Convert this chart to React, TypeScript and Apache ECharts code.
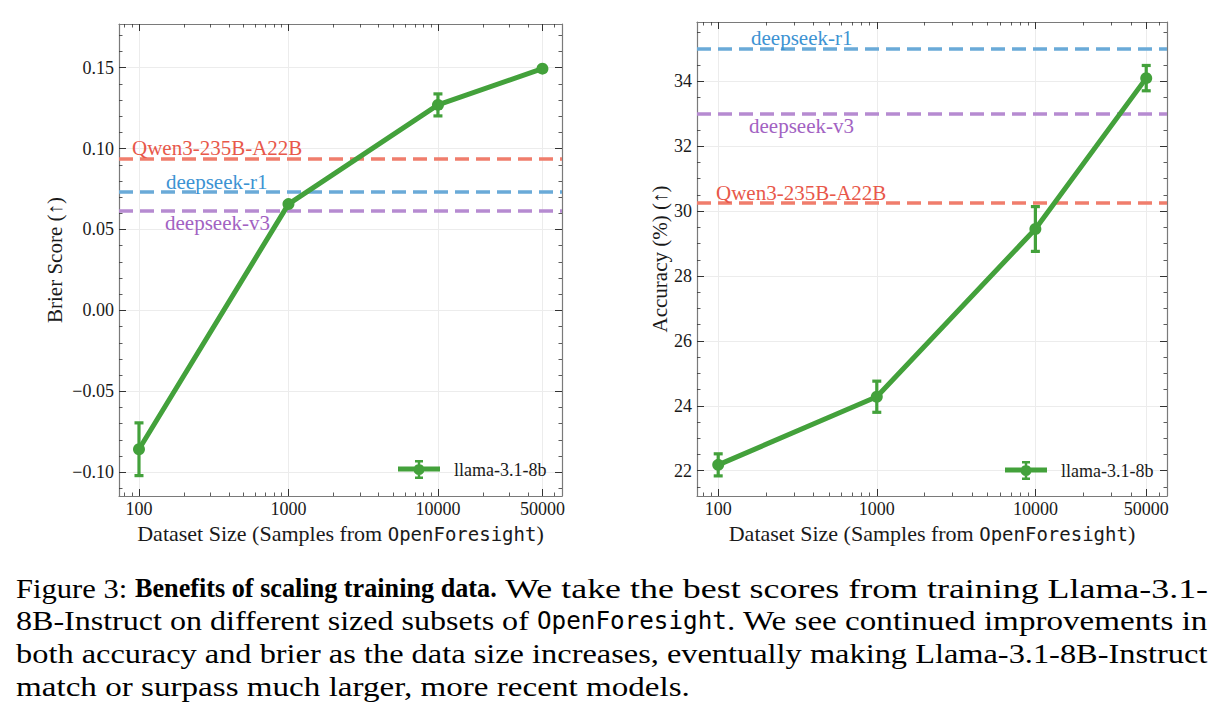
import React, { useEffect, useRef } from "react";
import * as echarts from "echarts";

// ---------------- data ----------------
const sampleSizes = [100, 1000, 10000, 50000];
const brierScores = [-0.0858, 0.0657, 0.127, 0.1494];
const brierErrors = [0.0163, 0.0012, 0.0068, 0.0012];
const accuracyScores = [22.18, 24.28, 29.45, 34.1];
const accuracyErrors = [0.34, 0.48, 0.69, 0.39];

const baselineModels = ["Qwen3-235B-A22B", "deepseek-r1", "deepseek-v3"];
const baselineBrier = [0.0936, 0.0731, 0.0616];
const baselineAccuracy = [30.25, 35.0, 33.0];

const xTickLabels = [100, 1000, 10000, 50000];
const brierTicks = [-0.1, -0.05, 0.0, 0.05, 0.1, 0.15];
const accuracyTicks = [22, 24, 26, 28, 30, 32, 34];
const seriesName = "llama-3.1-8b";

const xRange = [73.5, 67600];
const brierRange = [-0.1147, 0.177];
const accuracyRange = [21.22, 35.83];

const captionLines: [string, string][][] = [
  [["Figure 3: ", "r"], ["Benefits of scaling training data.", "b"], [" We take the best scores from training Llama-3.1-", "r"]],
  [["8B-Instruct on different sized subsets of ", "r"], ["OpenForesight", "m"], [". We see continued improvements in", "r"]],
  [["both accuracy and brier as the data size increases, eventually making Llama-3.1-8B-Instruct", "r"]],
  [["match or surpass much larger, more recent models.", "r"]],
];

// ---------------- style ----------------
const FONT = "Liberation Serif";
const MONO = "DejaVu Sans Mono";
const GREEN = "#43a13b";
const TEXT = "#1a1a1a";
const lineColors = ["#f07d6c", "#6aaad8", "#b68bd1"];
const labelColors = ["#e8584a", "#3d93d3", "#a262c2"];
const FRAME = "#7a7a7a";
const TICK = "#333";
const GRIDLINE = "#ececec";

// label placement for baseline annotations: [dx, above]
const leftAnnot: [number, boolean][] = [[13, true], [47, true], [46, false]];
const rightAnnot: [number, boolean][] = [[19, true], [54, true], [52, false]];

// caption layout: segment boundaries (px) and baselines
const captionBounds = [
  [16, 135, 497, 1209],
  [16, 537, 727, 1208],
  [16, 1208],
  [16, 690],
];
const captionBaselines = [597, 630, 663, 696];

const log10 = (v: number) => Math.log10(v);

function minorLogTicks(range: number[]) {
  const out: number[] = [];
  for (let d = 10; d <= 100000; d *= 10) {
    for (let m = 2; m <= 9; m++) {
      const v = m * d;
      if (v >= range[0] && v <= range[1] && !xTickLabels.includes(v)) out.push(log10(v));
    }
  }
  return out;
}
function minorLinTicks(range: number[], step: number, major: number[]) {
  const out: number[] = [];
  const start = Math.ceil(range[0] / step);
  const end = Math.floor(range[1] / step);
  for (let k = start; k <= end; k++) {
    const v = +(k * step).toFixed(6);
    if (!major.some((m) => Math.abs(m - v) < 1e-9)) out.push(v);
  }
  return out;
}

const legendIcon =
  "path://M0 6.5H42V11.5H0Z M19.75 0H22.25V19H19.75Z M17 0H25V2.5H17Z M17 16.5H25V19H17Z M15.5 9.5A5.5 5.5 0 1 1 26.5 9.5A5.5 5.5 0 1 1 15.5 9.5Z";

function buildXAxes(gridIndex: number) {
  const min = log10(xRange[0]);
  const max = log10(xRange[1]);
  const major = xTickLabels.map(log10);
  const minor = minorLogTicks(xRange);
  const base: any = {
    type: "value",
    gridIndex,
    min,
    max,
    splitLine: { show: false },
    axisLabel: { show: false },
    axisLine: { show: false, onZero: false },
    axisTick: { show: false },
  };
  const majorTick = { show: true, inside: true, length: 7, customValues: major, lineStyle: { color: TICK, width: 1 } };
  const minorTick = { show: true, inside: true, length: 3.5, customValues: minor, lineStyle: { color: TICK, width: 0.8 } };
  const frame = { show: true, onZero: false, lineStyle: { color: FRAME, width: 1.2 } };
  return [
    {
      ...base,
      position: "bottom",
      axisLine: frame,
      axisTick: majorTick,
      splitLine: { show: true, lineStyle: { color: GRIDLINE, width: 1 } },
      axisLabel: {
        show: true,
        customValues: major,
        margin: 4,
        fontFamily: FONT,
        fontSize: 18,
        color: TEXT,
        formatter: (v: number) => String(Math.round(Math.pow(10, v))),
      },
      name: "{a|Dataset Size (Samples from }{b|OpenForesight}{a|)}",
      nameLocation: "middle",
      nameGap: 20,
      nameTextStyle: {
        fontFamily: FONT,
        fontSize: 22,
        rich: {
          a: { fontFamily: FONT, fontSize: 22, color: TEXT },
          b: { fontFamily: MONO, fontSize: 19, color: TEXT },
        },
      },
    },
    { ...base, position: "bottom", axisTick: minorTick },
    { ...base, position: "top", axisLine: frame, axisTick: majorTick },
    { ...base, position: "top", axisTick: minorTick },
  ];
}

function buildYAxes(
  gridIndex: number,
  range: number[],
  major: number[],
  minor: number[],
  fmt: (v: number) => string,
  name: string,
  nameGap: number
) {
  const base: any = {
    type: "value",
    gridIndex,
    min: range[0],
    max: range[1],
    splitLine: { show: false },
    axisLabel: { show: false },
    axisLine: { show: false, onZero: false },
    axisTick: { show: false },
  };
  const majorTick = { show: true, inside: true, length: 7, customValues: major, lineStyle: { color: TICK, width: 1 } };
  const minorTick = { show: true, inside: true, length: 3.5, customValues: minor, lineStyle: { color: TICK, width: 0.8 } };
  const frame = { show: true, onZero: false, lineStyle: { color: FRAME, width: 1.2 } };
  return [
    {
      ...base,
      position: "left",
      axisLine: frame,
      axisTick: majorTick,
      splitLine: { show: true, lineStyle: { color: GRIDLINE, width: 1 } },
      axisLabel: { show: true, customValues: major, margin: 5, fontFamily: FONT, fontSize: 18, color: TEXT, formatter: fmt },
      name,
      nameLocation: "middle",
      nameRotate: 90,
      nameGap,
      nameTextStyle: { fontFamily: FONT, fontSize: 21, color: TEXT },
    },
    { ...base, position: "left", axisTick: minorTick },
    { ...base, position: "right", axisLine: frame, axisTick: majorTick },
    { ...base, position: "right", axisTick: minorTick },
  ];
}

function errorBarRender(params: any, api: any) {
  const x = api.value(0);
  const y = api.value(1);
  const e = api.value(2);
  const hi = api.coord([x, y + e]);
  const lo = api.coord([x, y - e]);
  const cap = 4.5;
  const style = { stroke: GREEN, lineWidth: 3.2 };
  return {
    type: "group",
    children: [
      { type: "line", shape: { x1: hi[0], y1: hi[1], x2: lo[0], y2: lo[1] }, style },
      { type: "line", shape: { x1: hi[0] - cap, y1: hi[1], x2: hi[0] + cap, y2: hi[1] }, style },
      { type: "line", shape: { x1: lo[0] - cap, y1: lo[1], x2: lo[0] + cap, y2: lo[1] }, style },
    ],
  };
}

function plotSeries(axisIdx: number, values: number[], errors: number[], baselines: number[], annot: [number, boolean][]) {
  return [
    {
      type: "line",
      name: "baselines",
      xAxisIndex: axisIdx,
      yAxisIndex: axisIdx,
      data: [],
      markLine: {
        silent: true,
        symbol: ["none", "none"],
        precision: 6,
        z: 3,
        data: baselineModels.map((m, i) => ({
          yAxis: baselines[i],
          name: m,
          lineStyle: { color: lineColors[i], type: [14, 7], width: 3.5 },
          label: {
            show: true,
            formatter: m,
            position: annot[i][1] ? "insideStartTop" : "insideStartBottom",
            distance: [annot[i][0], annot[i][1] ? 0 : 2],
            color: labelColors[i],
            fontFamily: FONT,
            fontSize: 21,
          },
        })),
      },
    },
    {
      type: "line",
      name: seriesName,
      xAxisIndex: axisIdx,
      yAxisIndex: axisIdx,
      data: sampleSizes.map((s, i) => [log10(s), values[i]]),
      symbol: "circle",
      symbolSize: 12,
      lineStyle: { color: GREEN, width: 5 },
      itemStyle: { color: GREEN },
      z: 10,
    },
    {
      type: "custom",
      name: seriesName,
      xAxisIndex: axisIdx,
      yAxisIndex: axisIdx,
      data: sampleSizes.map((s, i) => [log10(s), values[i], errors[i]]),
      encode: { x: 0, y: 1 },
      renderItem: errorBarRender,
      itemStyle: { color: GREEN },
      z: 11,
    },
  ];
}

function buildCaption() {
  const canvas = document.createElement("canvas");
  const ctx = canvas.getContext("2d")!;
  const size = 28;
  const monoSize = 24;
  const spec = (k: string) =>
    k === "b"
      ? { fontFamily: FONT, fontSize: size, fontWeight: "bold" }
      : k === "m"
      ? { fontFamily: MONO, fontSize: monoSize, fontWeight: "normal" }
      : { fontFamily: FONT, fontSize: size, fontWeight: "normal" };
  const out: any[] = [];
  captionLines.forEach((segs, li) => {
    const bounds = captionBounds[li];
    segs.forEach(([t, k], si) => {
      const s = spec(k);
      ctx.font = `${s.fontWeight} ${s.fontSize}px "${s.fontFamily}"`;
      const w = ctx.measureText(t).width;
      const x0 = bounds[si];
      const x1 = bounds[si + 1];
      out.push({
        type: "text",
        x: x0,
        y: captionBaselines[li] - 9,
        scaleX: (x1 - x0) / w,
        style: { text: t, ...s, fill: "#000", align: "left", verticalAlign: "middle" },
      });
    });
  });
  return out;
}

export default function App() {
  const ref = useRef<HTMLDivElement>(null);
  useEffect(() => {
    if (!ref.current) return;
    const chart = echarts.init(ref.current, null, { renderer: "svg" });
    const brierFmt = (v: number) => (v < 0 ? "\u2212" : "") + Math.abs(v).toFixed(2);
    const accFmt = (v: number) => String(v);
    const legendBase = {
      data: [seriesName],
      padding: 0,
      itemWidth: 42,
      itemHeight: 19,
      icon: legendIcon,
      selectedMode: false,
      textStyle: { fontFamily: FONT, fontSize: 18, color: TEXT, padding: [0, 0, 0, 9] },
    };
    const option: any = {
      animation: false,
      backgroundColor: "#ffffff",
      textStyle: { fontFamily: FONT },
      grid: [
        { left: 119, top: 24, width: 443, height: 472 },
        { left: 697, top: 22, width: 470, height: 474 },
      ],
      xAxis: [...buildXAxes(0), ...buildXAxes(1)],
      yAxis: [
        ...buildYAxes(0, brierRange, brierTicks, minorLinTicks(brierRange, 0.01, brierTicks), brierFmt, "Brier Score (\u2191)", 54),
        ...buildYAxes(1, accuracyRange, accuracyTicks, minorLinTicks(accuracyRange, 0.5, accuracyTicks), accFmt, "Accuracy (%) (\u2191)", 23),
      ],
      legend: [
        { ...legendBase, left: 398, top: 460 },
        { ...legendBase, left: 1005, top: 461 },
      ],
      series: [
        ...plotSeries(0, brierScores, brierErrors, baselineBrier, leftAnnot),
        ...plotSeries(4, accuracyScores, accuracyErrors, baselineAccuracy, rightAnnot),
      ],
      graphic: buildCaption(),
    };
    chart.setOption(option);
    return () => chart.dispose();
  }, []);
  return <div ref={ref} style={{ position: "absolute", left: 0, top: 0, width: 1223, height: 721 }} />;
}
